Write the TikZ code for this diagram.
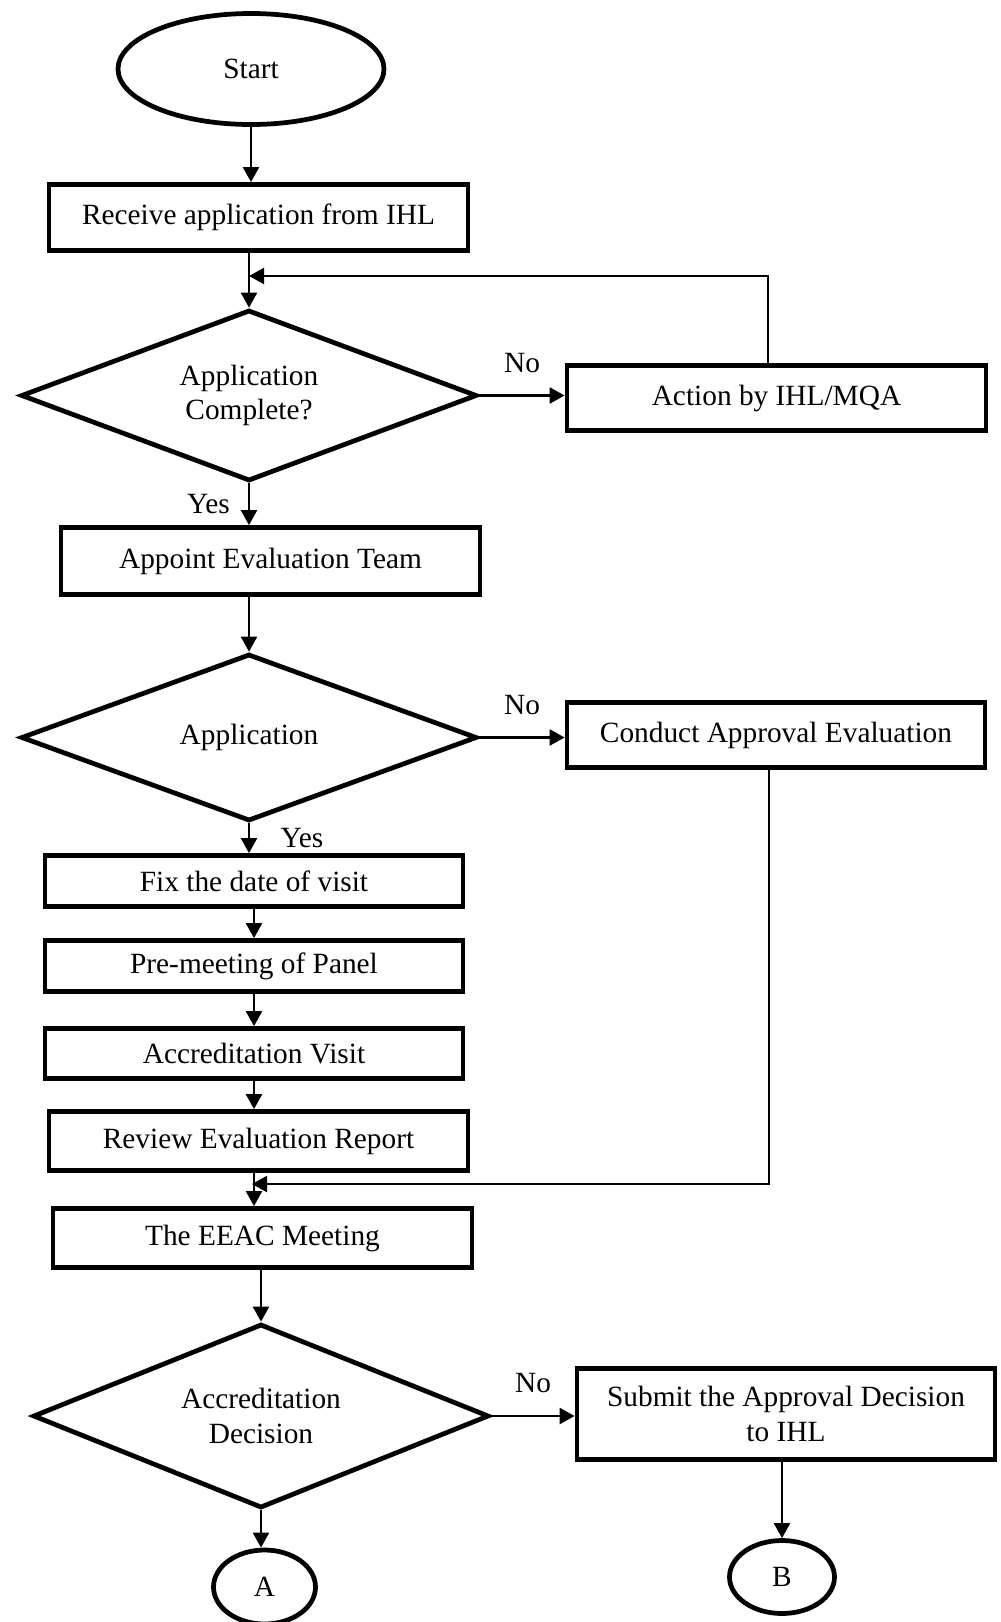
\documentclass[tikz,border=0pt]{standalone}
\usepackage{fontspec}
\setmainfont{Liberation Serif}
\usetikzlibrary{arrows.meta,shapes.geometric,positioning}

\begin{document}
\begin{tikzpicture}[>={Triangle[length=0.3cm,width=0.32cm]}, line width=1.25pt,
    font=\fontsize{16.7}{19.8}\selectfont,
    block/.style={draw, rectangle, line width=2.7pt, align=center, inner sep=0pt, minimum width=8.38cm},
    decision/.style={draw, diamond, shape aspect=2.7, line width=2.7pt, align=center, inner sep=0pt, minimum width=9.12cm},
    terminal/.style={draw, ellipse, line width=2.7pt, inner sep=0pt}]
    \useasboundingbox (0,0) rectangle (20,-32.44);

    % Nodes {start, recv, dec1, action, appoint, dec2, conduct, fix, ...}
    \node [terminal, minimum width=5.32cm, minimum height=2.22cm]   (start)    at (5.02,-1.38)   {Start};
    \node [block, minimum height=1.32cm]                            (recv)     at (5.17,-4.35)   {Receive application from IHL};
    \node [decision, minimum height=3.42cm]                         (dec1)     at (4.98,-7.91)   {Application\\Complete?};
    \node [block, minimum height=1.3cm]                             (action)   at (15.53,-7.96)  {Action by IHL/MQA};
    \node [block, minimum height=1.34cm]                            (appoint)  at (5.41,-11.22)  {Appoint Evaluation Team};
    \node [decision, minimum height=3.34cm]                         (dec2)     at (4.98,-14.75)  {Application};
    \node [block, minimum width=8.36cm, minimum height=1.3cm]       (conduct)  at (15.52,-14.70) {Conduct Approval Evaluation};
    \node [block, minimum width=8.36cm, minimum height=1.02cm]      (fix)      at (5.08,-17.62)  {Fix the date of visit};
    \node [block, minimum width=8.36cm, minimum height=1.02cm]      (pre)      at (5.08,-19.32)  {Pre-meeting of Panel};
    \node [block, minimum width=8.36cm, minimum height=1.0cm]       (visit)    at (5.08,-21.07)  {Accreditation Visit};
    \node [block, minimum height=1.18cm]                            (review)   at (5.17,-22.82)  {Review Evaluation Report};
    \node [block, minimum height=1.18cm]                            (eeac)     at (5.25,-24.76)  {The EEAC Meeting};
    \node [decision, minimum height=3.68cm]                         (dec3)     at (5.22,-28.32)  {Accreditation\\Decision};
    \node [block, minimum width=8.36cm, minimum height=1.82cm]      (submit)   at (15.72,-28.28) {Submit the Approval Decision\\to IHL};
    \node [terminal, minimum width=2.04cm, minimum height=1.48cm]   (A)        at (5.29,-31.74)  {A};
    \node [terminal, minimum width=2.1cm, minimum height=1.46cm]    (B)        at (15.64,-31.54) {B};

    % Return points
    \coordinate (fb1) at (4.98,-5.52);
    \coordinate (fb2) at (5.04,-23.68);

    % Paths
    \draw [->] (start.south) -- (start.south |- recv.north);
    \draw [->] (recv.south -| dec1.north) -- (dec1.north);
    \path [->] (dec1.east) edge node [above=9pt] {No} (dec1.east -| action.west);
    \draw [->] ([xshift=-0.17cm]action.north) |- (fb1);
    \path [->] (dec1.south) edge node [left=7pt] {Yes} (dec1.south |- appoint.north);
    \draw [->] (appoint.south -| dec2.north) -- (dec2.north);
    \path [->] (dec2.east) edge node [above=9pt] {No} (dec2.east -| conduct.west);
    \path [->] (dec2.south) edge node [right=14pt] {Yes} (dec2.south |- fix.north);
    \path [->] (fix) edge (pre);
    \path [->] (pre) edge (visit);
    \draw [->] (visit.south) -- (visit.south |- review.north);
    \draw [->] (visit.south |- review.south) -- (visit.south |- eeac.north);
    \draw [->] ([xshift=-0.14cm]conduct.south) |- (fb2);
    \draw [->] (eeac.south -| dec3.north) -- (dec3.north);
    \path [->] (dec3.east) edge node [above=9pt] {No} (dec3.east -| submit.west);
    \draw [->] (dec3.south) -- (dec3.south |- A.north);
    \draw [->] (submit.south -| B.north) -- (B.north);

\end{tikzpicture}
\end{document}
